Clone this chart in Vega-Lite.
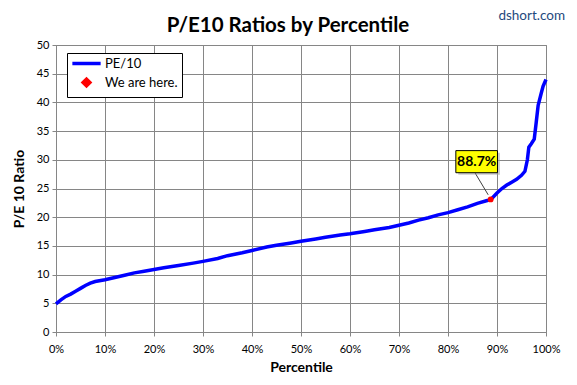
{
  "$schema": "https://vega.github.io/schema/vega-lite/v6.json",
  "width": 490,
  "height": 287,
  "autosize": {"type": "none"},
  "padding": {"left": 56, "top": 45, "right": 31, "bottom": 53},
  "background": "white",
  "config": {
    "font": "Lato",
    "view": {"stroke": "#868686", "strokeWidth": 1},
    "axis": {
      "gridColor": "#868686", "gridOpacity": 1, "gridWidth": 1,
      "domainColor": "#868686", "tickColor": "#868686", "tickSize": 4,
      "labelColor": "#000", "labelFontSize": 11, "labelFont": "Lato",
      "titleFontSize": 14, "titleFontWeight": "bold", "titleColor": "#000", "titleFont": "Lato"
    }
  },
  "title": {
    "text": "P/E10 Ratios by Percentile",
    "fontSize": 20.5, "fontWeight": "bold", "font": "Lato", "color": "#000",
    "anchor": "middle", "dx": -13, "offset": 10, "dy": 37
  },
  "datasets": {
    "pe": [
      {"percentile": 0, "value": 4.9},
      {"percentile": 1, "value": 5.6},
      {"percentile": 2, "value": 6.2},
      {"percentile": 3, "value": 6.6},
      {"percentile": 4, "value": 7.1},
      {"percentile": 5, "value": 7.6},
      {"percentile": 6, "value": 8.1},
      {"percentile": 7, "value": 8.5},
      {"percentile": 8, "value": 8.8},
      {"percentile": 10, "value": 9.1},
      {"percentile": 12, "value": 9.5},
      {"percentile": 14, "value": 9.9},
      {"percentile": 16, "value": 10.3},
      {"percentile": 18, "value": 10.6},
      {"percentile": 20, "value": 10.9},
      {"percentile": 22, "value": 11.2},
      {"percentile": 25, "value": 11.6},
      {"percentile": 28, "value": 12.0},
      {"percentile": 30, "value": 12.3},
      {"percentile": 33, "value": 12.8},
      {"percentile": 35, "value": 13.3},
      {"percentile": 38, "value": 13.8},
      {"percentile": 40, "value": 14.2},
      {"percentile": 43, "value": 14.8},
      {"percentile": 45, "value": 15.1},
      {"percentile": 48, "value": 15.5},
      {"percentile": 50, "value": 15.8},
      {"percentile": 53, "value": 16.2},
      {"percentile": 55, "value": 16.5},
      {"percentile": 58, "value": 16.9},
      {"percentile": 60, "value": 17.1},
      {"percentile": 63, "value": 17.5},
      {"percentile": 65, "value": 17.8},
      {"percentile": 68, "value": 18.2},
      {"percentile": 70, "value": 18.6},
      {"percentile": 72, "value": 19.0},
      {"percentile": 74, "value": 19.5},
      {"percentile": 76, "value": 19.9},
      {"percentile": 78, "value": 20.4},
      {"percentile": 80, "value": 20.8},
      {"percentile": 82, "value": 21.3},
      {"percentile": 84, "value": 21.8},
      {"percentile": 86, "value": 22.4},
      {"percentile": 88, "value": 22.9},
      {"percentile": 88.7, "value": 23.1},
      {"percentile": 89, "value": 23.3},
      {"percentile": 90, "value": 24.2},
      {"percentile": 91, "value": 25.0},
      {"percentile": 92, "value": 25.6},
      {"percentile": 93, "value": 26.1},
      {"percentile": 94, "value": 26.6},
      {"percentile": 95, "value": 27.3},
      {"percentile": 95.7, "value": 28.0},
      {"percentile": 96.2, "value": 30.0},
      {"percentile": 96.5, "value": 32.2},
      {"percentile": 97, "value": 32.8},
      {"percentile": 97.6, "value": 33.6},
      {"percentile": 98, "value": 36.5},
      {"percentile": 98.4, "value": 39.5},
      {"percentile": 99, "value": 41.5},
      {"percentile": 99.4, "value": 42.8},
      {"percentile": 100, "value": 44.0}
    ],
    "now": [{"percentile": 88.7, "value": 23.1, "label": "88.7%"}],
    "site": [{"label": "dshort.com"}]
  },
  "layer": [
    {
      "data": {"name": "pe"},
      "mark": {"type": "line", "strokeWidth": 3.5, "interpolate": "linear"},
      "encoding": {
        "x": {
          "field": "percentile", "type": "quantitative",
          "scale": {"domain": [0, 100], "nice": false},
          "axis": {
            "title": "Percentile", "values": [0, 10, 20, 30, 40, 50, 60, 70, 80, 90, 100], "tickCount": 20,
            "labelExpr": "datum.value + '%'", "labelPadding": 7, "titlePadding": 6,
            "labelFlush": false, "labelOverlap": false, "grid": true
          }
        },
        "y": {
          "field": "value", "type": "quantitative",
          "scale": {"domain": [0, 50], "nice": false},
          "axis": {
            "title": "P/E 10 Ratio", "values": [0, 5, 10, 15, 20, 25, 30, 35, 40, 45, 50], "tickCount": 20,
            "labelPadding": 3, "titlePadding": 10, "labelFlush": false, "labelOverlap": false, "grid": true
          }
        },
        "color": {
          "datum": "PE/10",
          "type": "nominal",
          "scale": {"domain": ["PE/10", "We are here."], "range": ["#0000FF", "#FF0000"]},
          "legend": {
            "title": null, "orient": "none", "legendX": 11, "legendY": 8,
            "strokeColor": "#000", "fillColor": "#fff", "padding": 4,
            "labelFontSize": 13, "labelColor": "#000", "labelFont": "Lato",
            "rowPadding": 1, "symbolSize": 800, "symbolStrokeWidth": 3.5,
            "symbolOffset": 9, "labelOffset": 12,
            "encode": {
              "symbols": {
                "update": {
                  "shape": {"signal": "datum.value === 'PE/10' ? 'stroke' : 'diamond'"},
                  "size": {"signal": "datum.value === 'PE/10' ? 800 : 45"},
                  "fill": {"signal": "datum.value === 'PE/10' ? 'transparent' : '#FF0000'"},
                  "stroke": {"signal": "datum.value === 'PE/10' ? '#0000FF' : 'transparent'"},
                  "strokeWidth": {"value": 3.5},
                  "opacity": {"value": 1}
                }
              }
            }
          }
        }
      }
    },
    {
      "data": {"name": "now"},
      "mark": {"type": "rule", "color": "#404040", "strokeWidth": 1},
      "encoding": {
        "x": {"datum": 85.5, "type": "quantitative"},
        "x2": {"datum": 88.2},
        "y": {"datum": 27.75, "type": "quantitative"},
        "y2": {"datum": 23.9}
      }
    },
    {
      "data": {"name": "now"},
      "mark": {"type": "rect", "fill": "#9a9a9a", "opacity": 0.5},
      "encoding": {
        "x": {"datum": 82.1, "type": "quantitative"},
        "x2": {"datum": 90.6},
        "y": {"datum": 31.25, "type": "quantitative"},
        "y2": {"datum": 27.4}
      }
    },
    {
      "data": {"name": "now"},
      "mark": {"type": "rect", "fill": "#FFFF00", "stroke": "#000", "strokeWidth": 1},
      "encoding": {
        "x": {"datum": 81.6, "type": "quantitative"},
        "x2": {"datum": 90.1},
        "y": {"datum": 31.6, "type": "quantitative"},
        "y2": {"datum": 27.75}
      }
    },
    {
      "data": {"name": "now"},
      "mark": {"type": "text", "fontWeight": "bold", "fontSize": 14, "font": "Lato", "color": "#000", "align": "center", "baseline": "middle"},
      "encoding": {
        "x": {"datum": 85.85, "type": "quantitative"},
        "y": {"datum": 29.7, "type": "quantitative"},
        "text": {"field": "label"}
      }
    },
    {
      "data": {"name": "now"},
      "mark": {"type": "point", "filled": true, "size": 35, "shape": "circle", "opacity": 1},
      "encoding": {
        "x": {"field": "percentile", "type": "quantitative"},
        "y": {"field": "value", "type": "quantitative"},
        "color": {"datum": "We are here.", "type": "nominal"}
      }
    },
    {
      "data": {"name": "site"},
      "mark": {"type": "text", "fontSize": 13.5, "font": "Lato", "color": "#1F497D", "align": "right", "baseline": "alphabetic", "dx": 19, "dy": -25},
      "encoding": {
        "x": {"datum": 100, "type": "quantitative"},
        "y": {"datum": 50, "type": "quantitative"},
        "text": {"field": "label"}
      }
    }
  ]
}
